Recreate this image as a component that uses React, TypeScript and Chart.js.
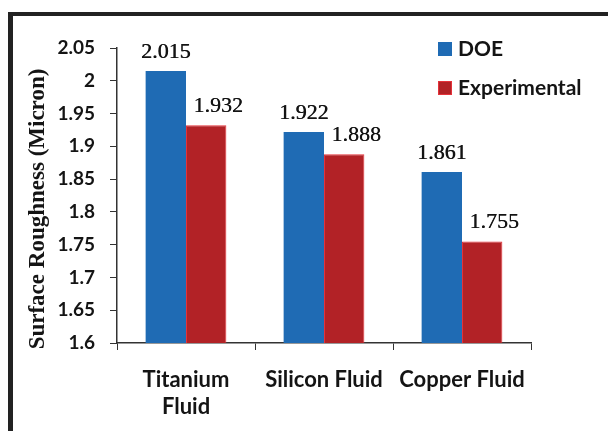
import React, { useEffect, useRef } from "react";
import { Chart, registerables } from "chart.js";

Chart.register(...registerables);

const categories: (string | string[])[] = [["Titanium", "Fluid"], "Silicon Fluid", "Copper Fluid"];
const doeValues = [2.015, 1.922, 1.861];
const experimentalValues = [1.932, 1.888, 1.755];
const seriesNames = ["DOE", "Experimental"];
const yAxisTitle = "Surface Roughness (Micron)";
const yMin = 1.6;
const yMax = 2.05;
const yStep = 0.05;

const BLUE = "#1F6BB4";
const RED = "#B22226";
const RED_BORDER = "#E5323A";
const INK = "#141414";

const labelPlugin = {
  id: "customDecor",
  afterDraw(chart: any) {
    const ctx = chart.ctx;
    ctx.save();
    // data labels
    ctx.font = "22px 'Liberation Serif'";
    ctx.fillStyle = INK;
    ctx.textAlign = "center";
    ctx.textBaseline = "alphabetic";
    chart.data.datasets.forEach((ds: any, di: number) => {
      const meta = chart.getDatasetMeta(di);
      const shift = di === 1 ? 12 : 0;
      meta.data.forEach((bar: any, i: number) => {
        ctx.fillText(String(ds.data[i]), bar.x + shift, bar.y - 13);
        ctx.fillText(String(ds.data[i]), bar.x + shift + 0.4, bar.y - 13);
      });
    });
    // legend
    const lx = 438;
    const rows = [49, 88];
    chart.data.datasets.forEach((ds: any, di: number) => {
      const cy = rows[di];
      ctx.fillStyle = ds.backgroundColor;
      ctx.fillRect(lx, cy - 7, 14, 14);
      if (di === 1) {
        ctx.strokeStyle = RED_BORDER;
        ctx.lineWidth = 1;
        ctx.strokeRect(lx + 0.5, cy - 6.5, 13, 13);
      }
      ctx.fillStyle = INK;
      ctx.font = "bold 21px Lato";
      ctx.textAlign = "left";
      ctx.textBaseline = "middle";
      ctx.fillText(ds.label, lx + 20, cy);
    });
    // y axis title
    ctx.translate(38, 209);
    ctx.rotate(-Math.PI / 2);
    ctx.font = "bold 23px 'Liberation Serif'";
    ctx.fillStyle = INK;
    ctx.textAlign = "center";
    ctx.textBaseline = "middle";
    ctx.fillText(yAxisTitle, 0, 0);
    ctx.restore();
  },
};

export default function App() {
  const ref = useRef<HTMLCanvasElement | null>(null);
  useEffect(() => {
    if (!ref.current) return;
    const chart = new Chart(ref.current, {
      type: "bar",
      data: {
        labels: categories,
        datasets: [
          {
            label: seriesNames[0],
            data: doeValues,
            backgroundColor: BLUE,
            borderWidth: 0,
          },
          {
            label: seriesNames[1],
            data: experimentalValues,
            backgroundColor: RED,
            borderColor: RED_BORDER,
            borderWidth: 1,
          },
        ],
      },
      options: {
        responsive: false,
        animation: false,
        events: [],
        datasets: { bar: { barPercentage: 1, categoryPercentage: 0.585 } },
        layout: { padding: { top: 48, right: 77, left: 0, bottom: 0 } },
        plugins: { legend: { display: false }, tooltip: { enabled: false } },
        scales: {
          x: {
            grid: {
              drawOnChartArea: false,
              drawTicks: true,
              tickLength: 7,
              color: "#333",
              offset: true,
            },
            border: { display: true, color: "#333", width: 1.5 },
            ticks: {
              color: INK,
              font: { family: "Lato", weight: "bold", size: 22, lineHeight: 1.23 },
              padding: 16,
              maxRotation: 0,
              autoSkip: false,
            },
            afterFit: (s: any) => {
              s.height = 88;
            },
          },
          y: {
            min: yMin,
            max: yMax,
            grid: {
              drawOnChartArea: false,
              drawTicks: true,
              tickLength: 7,
              color: "#333",
            },
            border: { display: true, color: "#333", width: 1.5 },
            ticks: {
              stepSize: yStep,
              color: INK,
              font: { family: "Lato", weight: "bold", size: 19 },
              padding: 15,
              callback: (v: any) => String(Number(Number(v).toFixed(2))),
            },
            afterFit: (s: any) => {
              s.width = 117;
            },
          },
        },
      },
      plugins: [labelPlugin],
    });
    return () => chart.destroy();
  }, []);
  return (
    <div style={{ position: "fixed", left: 0, top: 0, width: 608, height: 431, background: "#fff", overflow: "hidden" }}>
      <div
        style={{
          position: "absolute",
          left: 8,
          top: 12,
          width: 700,
          height: 500,
          borderTop: "4px solid #222",
          borderLeft: "5px solid #222",
        }}
      />
      <canvas ref={ref} width={608} height={431} style={{ position: "absolute", left: 0, top: 0 }} />
    </div>
  );
}
